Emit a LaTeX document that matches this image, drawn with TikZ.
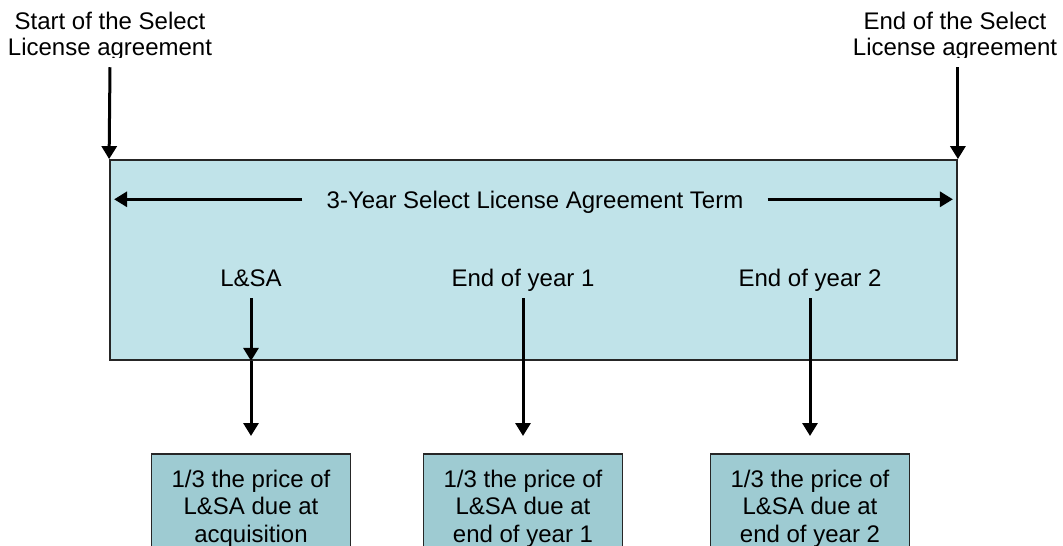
\documentclass[tikz,border=0pt]{standalone}
\usepackage{fontspec}
\setmainfont{Liberation Sans}
\usetikzlibrary{arrows.meta}

\definecolor{termblue}{RGB}{192,227,233}
\definecolor{payblue}{RGB}{158,203,210}

\begin{document}
\begin{tikzpicture}[x=0.5pt, y=-0.5pt,
  every node/.style={font=\fontsize{12}{13}\selectfont},
  termbox/.style={draw=black!85, line width=0.9pt, fill=termblue, minimum width=423.5pt, minimum height=100pt},
  paybox/.style={draw=black!85, line width=0.9pt, fill=payblue, anchor=north, minimum width=99.5pt, align=center, inner ysep=8pt, font=\fontsize{12}{13.8}\selectfont},
  toplbl/.style={align=center},
  midlbl/.style={anchor=base, text depth=2.5pt},
  arr/.style={line width=1.5pt, -{Triangle[width=7.5pt, length=6.5pt]}}]

\clip (0,0) rectangle (1063,545);

% The agreement term and the three payments.

\node[termbox] (term) at (533.5,260) {};
\node[anchor=base, text depth=0pt, inner xsep=12pt] (termtxt) at (535,208) {3-Year Select License Agreement Term};

\begin{scope}
\clip (0,0) rectangle (1063,58);
\node[toplbl] (start) at (110,36) {Start of the Select\\License agreement};
\node[toplbl] (end) at (955,36) {End of the Select\\License agreement};
\end{scope}

\node[midlbl] (lsa) at (251,286) {L\&SA};
\node[midlbl] (year1) at (523,286) {End of year 1};
\node[midlbl] (year2) at (810,286) {End of year 2};

\node[paybox] (pay1) at (251,453) {1/3 the price of\\L\&SA due at\\acquisition};
\node[paybox] (pay2) at (523,453) {1/3 the price of\\L\&SA due at\\end of year 1};
\node[paybox] (pay3) at (810,453) {1/3 the price of\\L\&SA due at\\end of year 2};

\draw[arr] (start.south) -- (term.north west);
\draw[arr] (end.south -| term.north east) -- (term.north east);

\draw[arr, shorten >=2.5pt] (termtxt.west) -- (termtxt.west -| term.west);
\draw[arr, shorten >=2.5pt] (termtxt.east) -- (termtxt.east -| term.east);

\draw[arr] (lsa.south) -- (lsa.south |- term.south);
\draw[arr, shorten >=8.5pt] (lsa.south |- term.south) -- (pay1.north);
\draw[arr, shorten >=8.5pt] (year1.south) -- (pay2.north);
\draw[arr, shorten >=8.5pt] (year2.south) -- (pay3.north);

\end{tikzpicture}
\end{document}
